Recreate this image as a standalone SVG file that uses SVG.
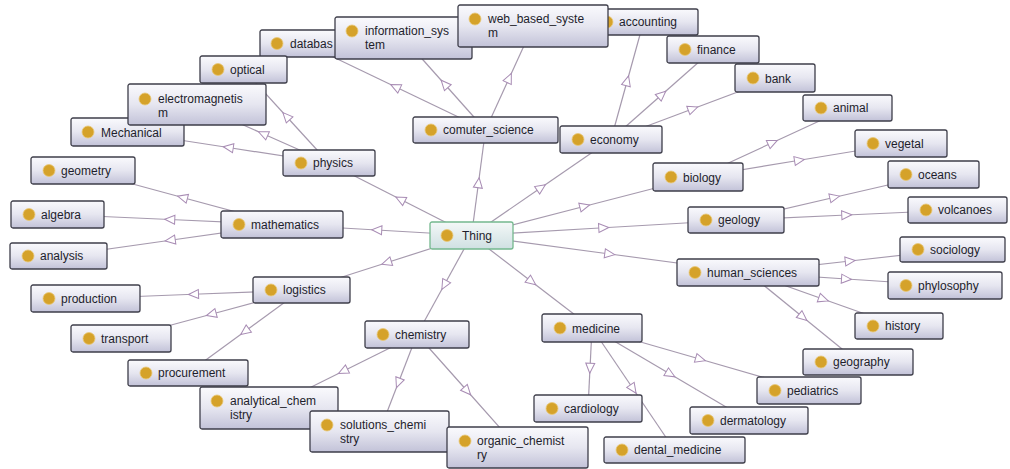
<svg xmlns="http://www.w3.org/2000/svg" width="1010" height="469" viewBox="0 0 1010 469">
<defs>
<linearGradient id="gBox" x1="0" y1="0" x2="0" y2="1">
<stop offset="0" stop-color="#fafafd"/>
<stop offset="0.5" stop-color="#e6e6f0"/>
<stop offset="1" stop-color="#c2c2d8"/>
</linearGradient>
<linearGradient id="gThing" x1="0" y1="0" x2="0" y2="1">
<stop offset="0" stop-color="#f4f8f8"/>
<stop offset="1" stop-color="#cfe0e2"/>
</linearGradient>
<marker id="tri" viewBox="-6 -6 12 12" refX="0" refY="0" markerWidth="12" markerHeight="12" orient="auto" markerUnits="userSpaceOnUse">
<path d="M5,0 L-5,-4.5 L-5,4.5 Z" fill="#ffffff" stroke="#a88cb4" stroke-width="1"/>
</marker>
<style>
.edge{fill:none;stroke:#a69aae;stroke-width:1.2;marker-mid:url(#tri)}
.box{fill:url(#gBox);stroke:#3e3e4a;stroke-width:1.3}
.thing{fill:url(#gThing);stroke:#74b88e;stroke-width:1.3}
.dot{fill:#d5a22a;stroke:#e8c878;stroke-width:0.8}
text{font-family:"Liberation Sans",Arial,sans-serif;font-size:12px;fill:#1e1e2c}
</style>
</defs>
<rect width="1010" height="469" fill="#ffffff"/>
<g id="connectors">
<path class="edge" d="M471.5 235.5 L400.25 199.25 L329 163"/>
<path class="edge" d="M471.5 235.5 L478.5 182.75 L485.5 130"/>
<path class="edge" d="M471.5 235.5 L541.25 187.5 L611 139.5"/>
<path class="edge" d="M471.5 235.5 L584.75 206.25 L698 177"/>
<path class="edge" d="M471.5 235.5 L603.75 227.75 L736 220"/>
<path class="edge" d="M471.5 235.5 L609.75 254 L748 272.5"/>
<path class="edge" d="M471.5 235.5 L531.75 281.75 L592 328"/>
<path class="edge" d="M471.5 235.5 L444.25 285 L417 334.5"/>
<path class="edge" d="M471.5 235.5 L386.5 262.75 L301.5 290"/>
<path class="edge" d="M471.5 235.5 L376.75 230 L282 224.5"/>
<path class="edge" d="M329 163 L286.25 116.25 L243.5 69.5"/>
<path class="edge" d="M329 163 L263 133.75 L197 104.5"/>
<path class="edge" d="M329 163 L228.25 147.5 L127.5 132"/>
<path class="edge" d="M485.5 130 L395.25 86.75 L305 43.5"/>
<path class="edge" d="M485.5 130 L444.5 84 L403.5 38"/>
<path class="edge" d="M485.5 130 L509.25 78 L533 26"/>
<path class="edge" d="M611 139.5 L627.25 80.75 L643.5 22"/>
<path class="edge" d="M611 139.5 L662 94.5 L713 49.5"/>
<path class="edge" d="M611 139.5 L693 108.75 L775 78"/>
<path class="edge" d="M698 177 L772.75 142.5 L847.5 108"/>
<path class="edge" d="M698 177 L799.5 160.25 L901 143.5"/>
<path class="edge" d="M736 220 L834.75 197.25 L933.5 174.5"/>
<path class="edge" d="M736 220 L846.75 215 L957.5 210"/>
<path class="edge" d="M748 272.5 L850.25 261 L952.5 249.5"/>
<path class="edge" d="M748 272.5 L846.5 279 L945 285.5"/>
<path class="edge" d="M748 272.5 L823.5 299.25 L899 326"/>
<path class="edge" d="M748 272.5 L803 317.25 L858 362"/>
<path class="edge" d="M592 328 L590 368.25 L588 408.5"/>
<path class="edge" d="M592 328 L633.25 389 L674.5 450"/>
<path class="edge" d="M592 328 L670.5 374.25 L749 420.5"/>
<path class="edge" d="M592 328 L700.5 359.25 L809 390.5"/>
<path class="edge" d="M417 334.5 L343 371.25 L269 408"/>
<path class="edge" d="M417 334.5 L398.25 383 L379.5 431.5"/>
<path class="edge" d="M417 334.5 L467.25 391 L517.5 447.5"/>
<path class="edge" d="M301.5 290 L193.5 294.25 L85.5 298.5"/>
<path class="edge" d="M301.5 290 L211.25 314.25 L121 338.5"/>
<path class="edge" d="M301.5 290 L244.75 331.5 L188 373"/>
<path class="edge" d="M282 224.5 L182.5 197.5 L83 170.5"/>
<path class="edge" d="M282 224.5 L169.75 219.5 L57.5 214.5"/>
<path class="edge" d="M282 224.5 L170.25 240.25 L58.5 256"/>
</g>
<g id="n-databas" transform="translate(260,30)"><rect class="box" width="90" height="27" rx="2"/><circle class="dot" cx="17" cy="13.5" r="6"/><text x="30" y="18">databas</text></g>
<g id="n-information_system" transform="translate(335,17)"><rect class="box" width="137" height="42" rx="2"/><circle class="dot" cx="17" cy="14" r="6"/><text x="30" y="18">information_sys</text><text x="30" y="32">tem</text></g>
<g id="n-accounting" transform="translate(589,9)"><rect class="box" width="109" height="26" rx="2"/><circle class="dot" cx="18" cy="13" r="6"/><text x="30" y="17">accounting</text></g>
<g id="n-web_based_system" transform="translate(458,5)"><rect class="box" width="150" height="42" rx="2"/><circle class="dot" cx="17" cy="14" r="6"/><text x="30" y="18">web_based_syste</text><text x="30" y="32">m</text></g>
<g id="n-finance" transform="translate(667,36)"><rect class="box" width="92" height="27" rx="2"/><circle class="dot" cx="18" cy="13.5" r="6"/><text x="30" y="18">finance</text></g>
<g id="n-bank" transform="translate(735,64)"><rect class="box" width="80" height="28" rx="2"/><circle class="dot" cx="18" cy="14" r="6"/><text x="30" y="18.5">bank</text></g>
<g id="n-animal" transform="translate(803,95)"><rect class="box" width="89" height="26" rx="2"/><circle class="dot" cx="18" cy="13" r="6"/><text x="30" y="17">animal</text></g>
<g id="n-vegetal" transform="translate(855,130)"><rect class="box" width="92" height="27" rx="2"/><circle class="dot" cx="18" cy="13.5" r="6"/><text x="30" y="18">vegetal</text></g>
<g id="n-optical" transform="translate(200,56)"><rect class="box" width="87" height="27" rx="2"/><circle class="dot" cx="18" cy="13.5" r="6"/><text x="30" y="18">optical</text></g>
<g id="n-Mechanical" transform="translate(71,118)"><rect class="box" width="113" height="28" rx="2"/><circle class="dot" cx="17" cy="14" r="6"/><text x="30" y="18.5">Mechanical</text></g>
<g id="n-electromagnetism" transform="translate(128,84)"><rect class="box" width="138" height="41" rx="2"/><circle class="dot" cx="17" cy="15" r="6"/><text x="30" y="19">electromagnetis</text><text x="30" y="33">m</text></g>
<g id="n-physics" transform="translate(283,150)"><rect class="box" width="92" height="26" rx="2"/><circle class="dot" cx="18" cy="13" r="6"/><text x="30" y="17">physics</text></g>
<g id="n-comuter_science" transform="translate(413,117)"><rect class="box" width="145" height="26" rx="2"/><circle class="dot" cx="18" cy="13" r="6"/><text x="30" y="17">comuter_science</text></g>
<g id="n-economy" transform="translate(560,126)"><rect class="box" width="102" height="27" rx="2"/><circle class="dot" cx="18" cy="13.5" r="6"/><text x="30" y="18">economy</text></g>
<g id="n-geometry" transform="translate(31,157)"><rect class="box" width="104" height="27" rx="2"/><circle class="dot" cx="18" cy="13.5" r="6"/><text x="30" y="18">geometry</text></g>
<g id="n-algebra" transform="translate(11,201)"><rect class="box" width="93" height="27" rx="2"/><circle class="dot" cx="18" cy="13.5" r="6"/><text x="30" y="18">algebra</text></g>
<g id="n-analysis" transform="translate(10,243)"><rect class="box" width="97" height="26" rx="2"/><circle class="dot" cx="18" cy="13" r="6"/><text x="30" y="17">analysis</text></g>
<g id="n-mathematics" transform="translate(221,211)"><rect class="box" width="122" height="27" rx="2"/><circle class="dot" cx="18" cy="13.5" r="6"/><text x="30" y="18">mathematics</text></g>
<g id="n-Thing" transform="translate(430,222)"><rect class="thing" width="83" height="27" rx="2"/><circle class="dot" cx="17" cy="13.5" r="6"/><text x="32" y="18">Thing</text></g>
<g id="n-logistics" transform="translate(253,277)"><rect class="box" width="97" height="26" rx="2"/><circle class="dot" cx="18" cy="13" r="6"/><text x="30" y="17">logistics</text></g>
<g id="n-production" transform="translate(31,285)"><rect class="box" width="109" height="27" rx="2"/><circle class="dot" cx="18" cy="13.5" r="6"/><text x="30" y="18">production</text></g>
<g id="n-transport" transform="translate(71,325)"><rect class="box" width="100" height="27" rx="2"/><circle class="dot" cx="18" cy="13.5" r="6"/><text x="30" y="18">transport</text></g>
<g id="n-procurement" transform="translate(128,360)"><rect class="box" width="120" height="26" rx="2"/><circle class="dot" cx="18" cy="13" r="6"/><text x="30" y="17">procurement</text></g>
<g id="n-analytical_chemistry" transform="translate(200,387)"><rect class="box" width="138" height="42" rx="2"/><circle class="dot" cx="17" cy="14" r="6"/><text x="30" y="18">analytical_chem</text><text x="30" y="32">istry</text></g>
<g id="n-solutions_chemistry" transform="translate(310,411)"><rect class="box" width="139" height="41" rx="2"/><circle class="dot" cx="17" cy="14" r="6"/><text x="30" y="18">solutions_chemi</text><text x="30" y="32">stry</text></g>
<g id="n-organic_chemistry" transform="translate(447,427)"><rect class="box" width="141" height="41" rx="2"/><circle class="dot" cx="18" cy="14" r="6"/><text x="30" y="18">organic_chemist</text><text x="30" y="32">ry</text></g>
<g id="n-chemistry" transform="translate(365,321)"><rect class="box" width="104" height="27" rx="2"/><circle class="dot" cx="18" cy="13.5" r="6"/><text x="30" y="18">chemistry</text></g>
<g id="n-medicine" transform="translate(542,314)"><rect class="box" width="100" height="28" rx="2"/><circle class="dot" cx="18" cy="14" r="6"/><text x="30" y="18.5">medicine</text></g>
<g id="n-cardiology" transform="translate(534,395)"><rect class="box" width="108" height="27" rx="2"/><circle class="dot" cx="18" cy="13.5" r="6"/><text x="30" y="18">cardiology</text></g>
<g id="n-dental_medicine" transform="translate(604,437)"><rect class="box" width="141" height="26" rx="2"/><circle class="dot" cx="18" cy="13" r="6"/><text x="30" y="17">dental_medicine</text></g>
<g id="n-dermatology" transform="translate(690,407)"><rect class="box" width="118" height="27" rx="2"/><circle class="dot" cx="18" cy="13.5" r="6"/><text x="30" y="18">dermatology</text></g>
<g id="n-pediatrics" transform="translate(757,377)"><rect class="box" width="104" height="27" rx="2"/><circle class="dot" cx="18" cy="13.5" r="6"/><text x="30" y="18">pediatrics</text></g>
<g id="n-geography" transform="translate(803,349)"><rect class="box" width="110" height="26" rx="2"/><circle class="dot" cx="18" cy="13" r="6"/><text x="30" y="17">geography</text></g>
<g id="n-history" transform="translate(855,313)"><rect class="box" width="88" height="26" rx="2"/><circle class="dot" cx="18" cy="13" r="6"/><text x="30" y="17">history</text></g>
<g id="n-biology" transform="translate(653,163)"><rect class="box" width="90" height="28" rx="2"/><circle class="dot" cx="18" cy="14" r="6"/><text x="30" y="18.5">biology</text></g>
<g id="n-oceans" transform="translate(888,161)"><rect class="box" width="91" height="27" rx="2"/><circle class="dot" cx="18" cy="13.5" r="6"/><text x="30" y="18">oceans</text></g>
<g id="n-volcanoes" transform="translate(908,197)"><rect class="box" width="99" height="26" rx="2"/><circle class="dot" cx="18" cy="13" r="6"/><text x="30" y="17">volcanoes</text></g>
<g id="n-geology" transform="translate(688,207)"><rect class="box" width="96" height="26" rx="2"/><circle class="dot" cx="18" cy="13" r="6"/><text x="30" y="17">geology</text></g>
<g id="n-sociology" transform="translate(900,237)"><rect class="box" width="105" height="25" rx="2"/><circle class="dot" cx="18" cy="12.5" r="6"/><text x="30" y="17">sociology</text></g>
<g id="n-human_sciences" transform="translate(677,259)"><rect class="box" width="142" height="27" rx="2"/><circle class="dot" cx="18" cy="13.5" r="6"/><text x="30" y="18">human_sciences</text></g>
<g id="n-phylosophy" transform="translate(888,272)"><rect class="box" width="114" height="27" rx="2"/><circle class="dot" cx="18" cy="13.5" r="6"/><text x="30" y="18">phylosophy</text></g>
</svg>
